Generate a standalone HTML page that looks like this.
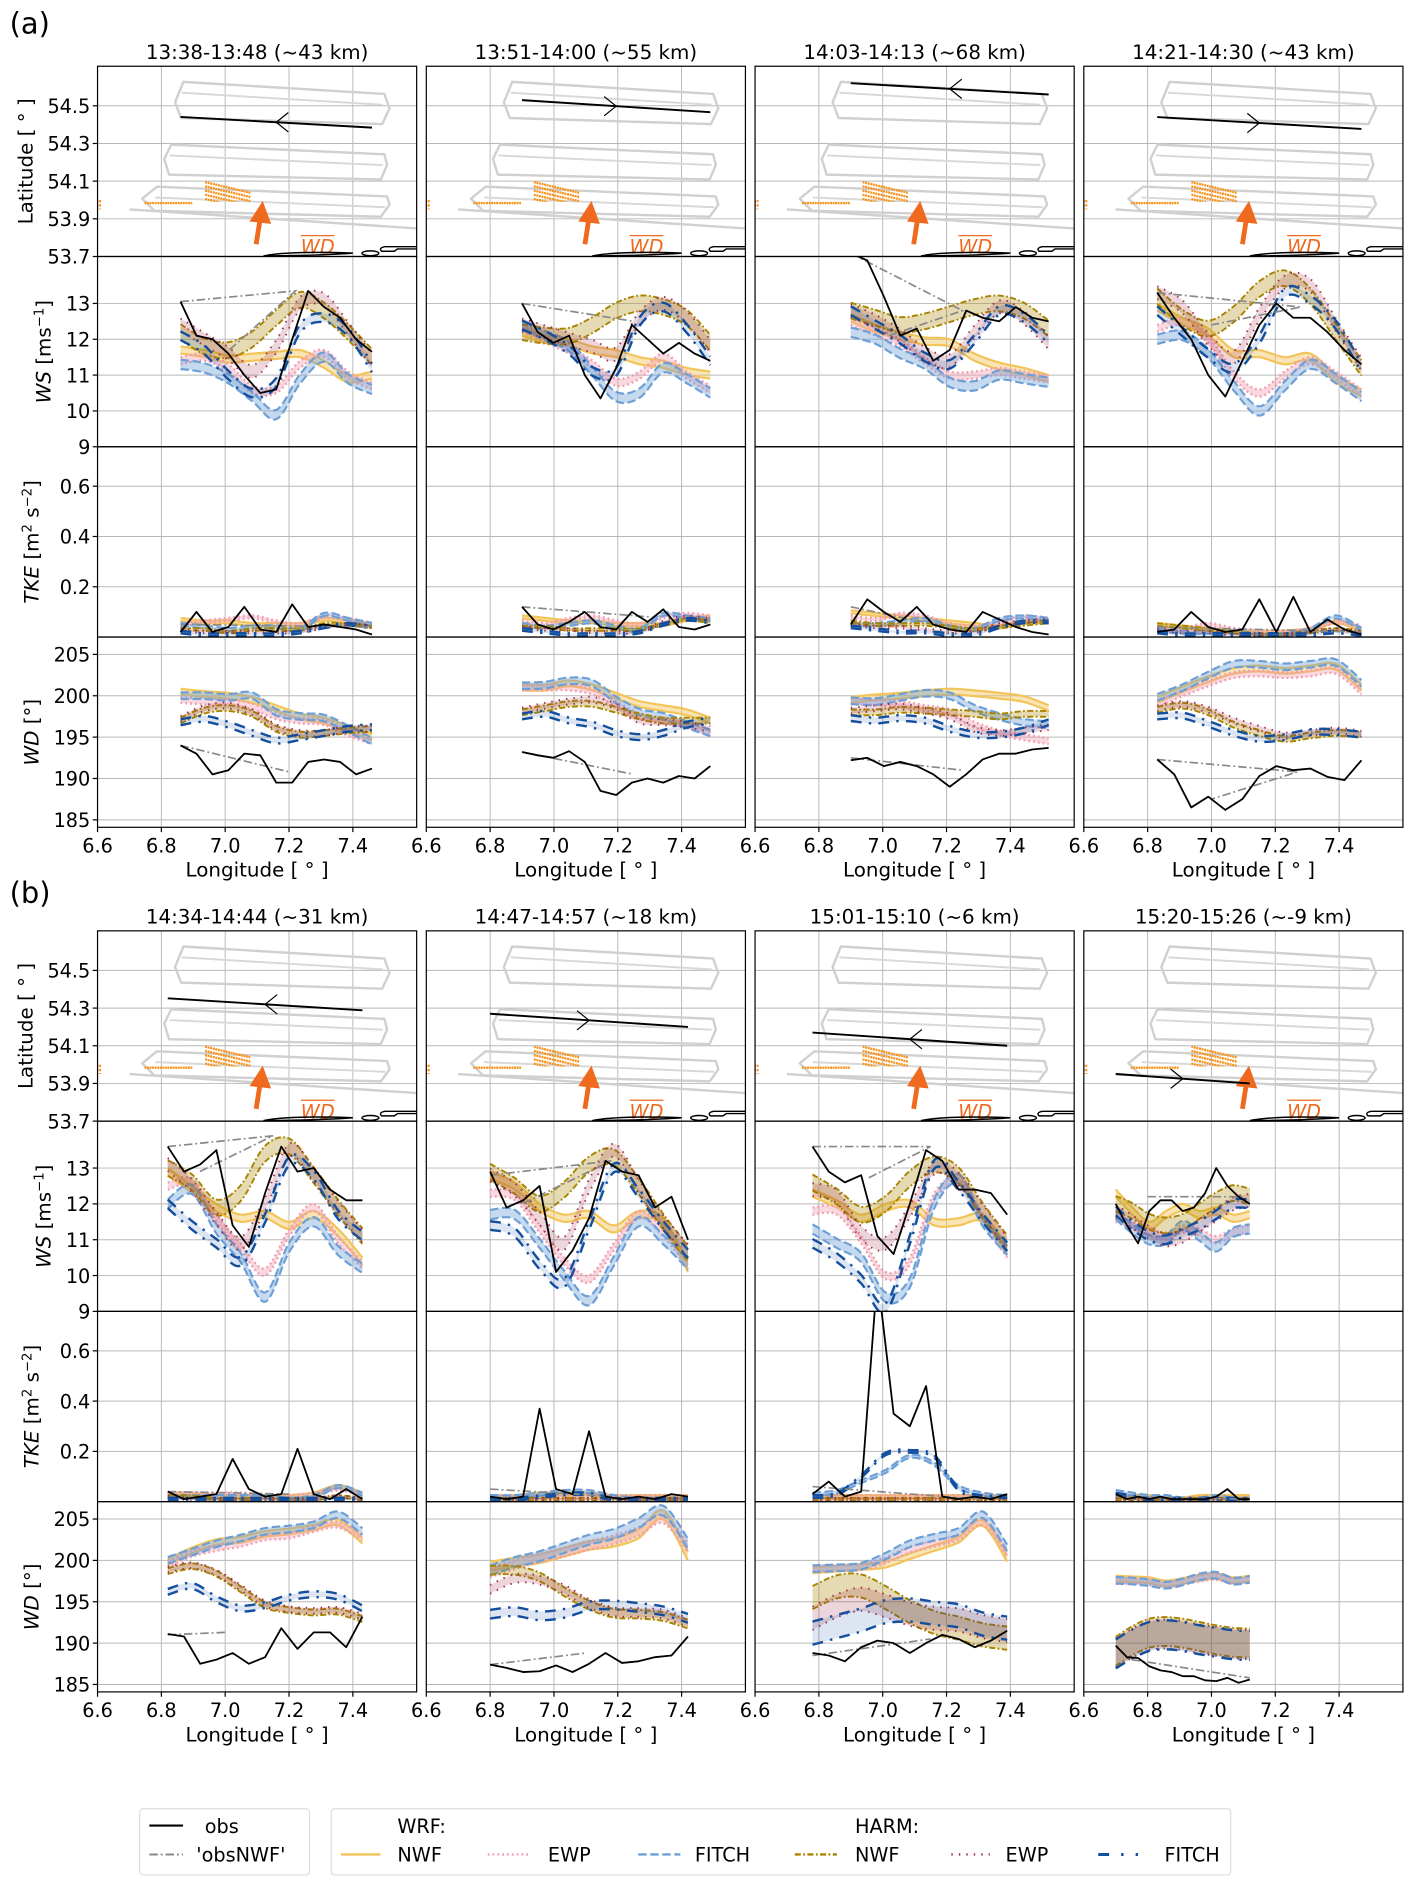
<!DOCTYPE html>
<html><head><meta charset="utf-8">
<style>
html,body{margin:0;padding:0;background:#fff;}
svg{display:block;font-family:"DejaVu Sans","Liberation Sans",sans-serif;}
</style></head>
<body>
<svg id="fig" xmlns="http://www.w3.org/2000/svg" width="1421" height="1890" viewBox="0 0 1180 1569.5" preserveAspectRatio="none">
<rect x="0" y="0" width="1180" height="1569.5" fill="#fff"/>
<defs id="defs"></defs>
<g id="root"></g>
</svg>
<script>
// ---------- data ----------
const titles = ["13:38-13:48 (~43 km)","13:51-14:00 (~55 km)","14:03-14:13 (~68 km)","14:21-14:30 (~43 km)",
"14:34-14:44 (~31 km)","14:47-14:57 (~18 km)","15:01-15:10 (~6 km)","15:20-15:26 (~-9 km)"];
const lonStart = [6.86,6.9,6.9,6.83,6.82,6.8,6.78,6.7];
const lonEnd   = [7.46,7.49,7.52,7.47,7.43,7.42,7.39,7.12];
const legLat0 = [54.441,54.53,54.62,54.44,54.352,54.27,54.17,53.95];
const legLat1 = [54.384,54.466,54.56,54.377,54.288,54.2,54.1,53.9];
const legDir  = [-1,1,-1,1,-1,1,-1,1];
const latTicks = [53.7,53.9,54.1,54.3,54.5];
const wsTicks = [9,10,11,12,13];
const tkeTicks = [0.2,0.4,0.6];
const wdTicks = [185,190,195,200,205];
const lonTicks = [6.6,6.8,7.0,7.2,7.4];

// WS
const wsWrfNwf = [[11.7,11.6,11.45,11.5,11.55,11.6,11.3,10.9,11.0],[12.2,12.0,11.9,11.7,11.6,11.4,11.3,11.1,11.0],[12.6,12.3,12.1,11.95,11.9,11.5,11.25,11.1,10.9],[12.9,12.5,12.2,11.6,11.6,11.4,11.5,10.9,10.5],[12.9,12.4,11.9,11.6,11.7,11.4,11.7,11.2,10.4],[12.8,12.5,11.9,11.6,11.7,11.3,11.7,11.5,10.2],[12.3,12.0,11.6,11.9,12.0,11.5,11.5,11.6,10.7],[12.3,11.8,11.4,11.7,11.9,11.7,11.8,11.6,11.7]];
const wsWrfEwp = [[11.4,11.5,11.2,10.6,10.6,11.3,11.6,11.0,10.7],[12.3,12.0,11.7,11.3,10.8,11.0,11.5,11.0,10.6],[12.5,12.2,11.9,11.4,11.0,11.0,11.1,11.0,10.9],[12.3,12.5,12.0,11.0,10.5,11.0,11.4,11.0,10.5],[12.5,12.6,11.6,10.8,10.1,11.2,11.9,11.0,10.3],[12.3,12.2,11.3,10.4,9.9,10.8,11.7,11.2,10.3],[11.8,11.8,11.0,10.0,10.4,12.2,12.6,11.6,10.6],[11.6,11.4,11.2,11.1,11.3,11.2,11.0,11.2,11.3]];
const wsWrfFitch = [[11.3,11.2,10.9,10.4,9.9,10.9,11.5,10.9,10.6],[12.4,12.1,11.8,11.1,10.4,10.5,11.2,10.9,10.5],[12.2,12.0,11.6,11.3,10.8,10.7,11.0,10.9,10.8],[12.0,12.1,11.6,10.7,10.0,10.7,11.3,10.9,10.4],[12.0,12.4,11.3,10.5,9.4,10.8,11.5,10.7,10.2],[11.7,11.7,10.9,10.0,9.3,10.4,11.5,11.0,10.3],[11.3,10.9,10.5,9.4,9.8,12.0,12.7,11.5,10.7],[11.7,11.3,11.0,11.0,11.4,11.1,10.8,11.2,11.3]];
const wsHarmNwf = [[12.2,11.8,11.7,12.0,12.6,13.1,12.8,12.2,11.5],[12.2,12.1,12.1,12.4,12.8,13.0,12.9,12.6,11.9],[12.8,12.6,12.4,12.5,12.7,12.9,13.0,12.8,12.3],[13.2,12.6,12.3,12.7,13.4,13.7,13.2,12.2,11.2],[13.0,12.6,11.9,12.3,13.4,13.6,12.8,11.9,11.1],[12.9,12.5,12.0,12.4,13.1,13.3,12.5,11.5,10.6],[12.6,12.2,11.7,12.0,12.7,13.1,12.8,11.8,10.9],[12.0,11.8,11.5,11.4,11.5,11.8,12.1,12.3,12.2]];
const wsHarmEwp = [[12.4,12.0,11.6,11.1,11.8,13.0,13.1,12.3,11.4],[12.4,12.2,12.0,11.8,11.6,12.6,13.0,12.6,11.8],[12.8,12.5,12.1,11.6,11.4,12.2,12.9,12.6,11.9],[13.3,12.9,12.0,11.5,12.7,13.6,13.5,12.4,11.3],[13.1,12.5,11.6,10.9,12.0,13.5,12.8,11.9,11.1],[12.8,12.4,11.6,10.9,12.5,13.5,12.5,11.5,10.7],[12.4,12.2,11.2,10.9,11.8,13.0,12.7,11.8,10.9],[11.8,11.5,11.2,11.0,11.1,11.4,11.7,12.0,12.1]];
const wsHarmFitch = [[12.1,11.7,11.0,10.5,10.8,12.3,12.6,12.2,11.2],[12.4,12.1,11.7,11.1,11.1,12.5,12.9,12.3,11.4],[12.8,12.4,12.0,11.5,11.3,12.0,12.8,12.6,12.0],[12.8,12.2,11.6,11.2,12.0,13.3,13.1,12.4,11.2],[12.0,11.4,10.9,10.4,11.6,13.2,12.8,11.7,11.1],[11.4,11.2,10.3,9.8,11.4,13.0,12.3,11.4,10.6],[10.9,10.5,9.9,9.1,11.0,13.1,12.5,11.6,10.8],[11.8,11.4,11.1,11.0,11.2,11.4,11.7,12.0,12.0]];
const wsObs = [[13.05,12.1,12.0,11.6,11.0,10.5,10.6,12.0,13.35,12.9,12.6,12.0,11.65],[13.0,12.2,11.9,12.1,11.0,10.35,11.2,12.4,12.0,11.6,11.9,11.6,11.4],[14.4,14.2,13.2,12.1,12.3,11.4,11.7,12.8,12.6,12.5,12.9,12.6,12.5],[13.3,12.6,12.0,11.0,10.4,11.4,12.4,13.0,12.6,12.6,12.2,11.7,11.3],[13.6,12.9,13.1,13.5,11.4,10.8,12.3,13.6,12.9,13.0,12.4,12.1,12.1],[12.9,11.9,12.1,12.5,10.1,10.7,11.6,13.2,12.9,12.8,11.9,12.2,11.0],[13.6,12.9,12.6,12.8,11.1,10.6,12.0,13.5,13.2,12.4,12.4,12.3,11.7],[12.0,11.4,10.9,11.8,12.1,12.1,11.8,11.9,12.3,13.0,12.5,12.2,12.0]];
const wsObsNwfLon = [[6.86,7.22,7.0],[6.9,7.25],[6.9,7.25,7.02],[6.83,7.28,7.0],[6.82,7.15,6.92],[6.8,7.18,6.9],[6.78,7.15,6.95],[6.8,7.1]];
const wsObsNwfVal = [[13.05,13.35,11.6],[13.0,12.5],[14.4,12.8,12.1],[13.3,12.9,12.4],[13.6,13.9,12.9],[12.8,13.2,12.0],[13.6,13.6,12.7],[12.2,12.2]];

// TKE
const tkeWrfNwf = [[.07,.06,.06,.05,.05,.05,.07,.06,.05],[.08,.07,.06,.06,.05,.05,.05,.07,.08],[.1,.09,.08,.07,.06,.05,.04,.06,.06],[.05,.04,.03,.02,.02,.02,.03,.06,.03],[.03,.03,.02,.02,.02,.02,.03,.06,.03],[.02,.02,.03,.03,.03,.02,.02,.02,.02],[.02,.02,.02,.02,.02,.02,.02,.02,.02],[.02,.02,.02,.01,.01,.02,.02,.02,.02]];
const tkeWrfEwp = [[.05,.06,.07,.08,.06,.05,.08,.07,.05],[.06,.05,.07,.08,.06,.05,.08,.09,.08],[.08,.07,.09,.08,.05,.04,.06,.08,.07],[.03,.03,.05,.03,.02,.02,.03,.06,.04],[.03,.03,.03,.03,.02,.02,.03,.05,.03],[.02,.02,.02,.02,.02,.02,.02,.02,.02],[.02,.02,.02,.02,.02,.02,.02,.02,.02],[.02,.02,.01,.01,.01,.01,.01,.01,.01]];
const tkeWrfFitch = [[.05,.04,.03,.04,.04,.03,.09,.07,.05],[.05,.04,.05,.06,.04,.03,.09,.08,.07],[.05,.05,.06,.07,.04,.03,.07,.08,.07],[.03,.02,.02,.02,.01,.01,.03,.08,.03],[.02,.02,.02,.02,.02,.01,.02,.06,.03],[.02,.02,.03,.04,.04,.02,.01,.01,.01],[.03,.04,.08,.12,.18,.15,.06,.03,.02],[.04,.03,.02,.02,.01,.01,.02,.01,.01]];
const tkeHarmNwf = [[.03,.03,.02,.03,.03,.03,.05,.05,.04],[.04,.04,.03,.03,.03,.03,.05,.07,.06],[.06,.05,.05,.05,.04,.03,.04,.05,.06],[.05,.04,.03,.02,.01,.01,.02,.03,.02],[.02,.02,.01,.01,.01,.01,.01,.02,.01],[.01,.01,.01,.01,.01,.01,.01,.01,.01],[.01,.01,.01,.01,.01,.01,.01,.01,.01],[.01,.01,.01,.01,.01,.01,.01,.01,.01]];
const tkeHarmEwp = [[.03,.02,.02,.02,.02,.02,.04,.05,.04],[.04,.03,.03,.02,.02,.02,.06,.08,.07],[.05,.04,.04,.03,.02,.02,.05,.06,.07],[.03,.02,.02,.01,.01,.01,.02,.03,.02],[.02,.01,.01,.01,.01,.01,.01,.02,.01],[.01,.01,.01,.01,.01,.01,.01,.01,.01],[.01,.01,.01,.01,.01,.01,.01,.01,.01],[.01,.01,.01,.01,.01,.01,.01,.01,.01]];
const tkeHarmFitch = [[.02,.01,.01,.01,.01,.02,.04,.05,.04],[.03,.02,.01,.01,.01,.02,.05,.07,.06],[.04,.03,.02,.02,.01,.01,.04,.06,.06],[.02,.01,.01,.01,.01,.01,.01,.02,.01],[.01,.01,.01,.01,.01,.01,.01,.01,.01],[.01,.01,.02,.03,.03,.01,.01,.01,.01],[.02,.03,.1,.19,.2,.18,.05,.02,.02],[.03,.02,.01,.01,.01,.01,.01,.01,.01]];
const tkeObs = [[.02,.1,.02,.04,.12,.03,.02,.13,.04,.05,.04,.03,.01],[.12,.05,.03,.06,.1,.04,.03,.1,.06,.11,.04,.03,.05],[.05,.15,.1,.06,.12,.05,.03,.02,.1,.07,.04,.02,.01],[.02,.03,.1,.04,.02,.03,.15,.02,.16,.02,.07,.03,.01],[.04,.01,.02,.03,.17,.05,.02,.03,.21,.03,.01,.05,.01],[.02,.01,.02,.37,.05,.03,.28,.02,.01,.02,.01,.03,.02],[.03,.08,.02,.04,.9,.35,.3,.46,.02,.01,.02,.01,.03],[.03,.01,.02,.01,.02,.01,.01,.01,.01,.02,.05,.01,.01]];
const tkeObsNwfLon = [[6.86,7.46],[6.9,7.3],[6.9,7.2],[6.83,7.47],[6.82,7.2],[6.8,7.2],[6.78,7.3],[6.7,7.1]];
const tkeObsNwfVal = [[.05,.04],[.12,.08],[.12,.04],[.04,.02],[.04,.03],[.05,.02],[.06,.01],[.02,.01]];

// WD
const wdWrfNwf = [[200.5,200.2,200.0,199.5,198.5,197.5,197.0,196.0,195.0],[201,201,201.5,201,200,199,198.5,198,197],[199.5,199.8,200,200.3,200.5,200.3,200,199.6,198.5],[199.5,200.8,202,203,203.3,203,203.3,203.5,201],[199.8,201.2,202.2,202.5,203.2,203.5,204.0,204.6,202.4],[199.3,199.8,200.2,201.0,201.8,202.2,203.2,205.5,200.5],[198.8,199.0,199.2,199.5,200.5,201.5,202.5,204.5,200.2],[197.8,197.7,197.6,197.2,197.5,197.9,198.1,197.6,197.8]];
const wdWrfEwp = [[199.5,199.3,199.2,198.7,197.5,197,196.8,195.5,194.5],[201,201,201,200.5,199,197.5,197,196.5,195.5],[199.3,199.2,199.0,198.5,198,196.5,195.5,195,194.5],[199,200.3,201.5,202.5,202.7,202.5,202.7,203,200.5],[199.5,200.8,201.5,202.0,202.8,203.0,203.8,204.3,202.8],[198.5,199.5,200.3,201.0,201.8,202.5,203.5,205.0,201.5],[199,199.1,199.2,200,201.3,202,202.8,204.6,200.8],[197.5,197.5,197.4,197.1,197.4,197.8,198.0,197.5,197.7]];
const wdWrfFitch = [[200,200,199.8,200,198,197.5,197.3,196,194.5],[201.2,201.3,201.8,201.5,199.5,198,197.5,196.5,195.5],[199.4,199.3,199.8,200.3,200,198.5,197.5,196.8,196.5],[199.8,201,202.5,203.8,203.8,203.5,203.8,204,201.5],[200,201,202,202.7,203.5,203.8,204.3,205.5,203.5],[198.8,199.8,200.5,201.5,202.5,203.2,204.5,206,202],[199,199.1,199.3,200.5,202,202.8,203.5,205.5,201.5],[197.6,197.5,197.3,197.0,197.4,198.0,198.2,197.5,197.7]];
const wdHarmNwf = [[197,198.2,198.5,197.8,196,195.3,195.5,195.8,196],[198,198.5,199,199,198.3,197.5,197,197,197],[198,198,198.3,198.2,198,197.8,197.5,197.8,197.8],[198.3,198.8,198,196.5,195.5,194.8,195.2,195.5,195.3],[198.7,199.3,198.4,196.5,194.6,194.0,193.7,193.8,192.9],[198.8,198.8,198.0,196.2,194.6,193.6,193.5,193.2,192.3],[195.5,196.8,196.9,195.5,193.8,192.5,191.8,191.0,190.6],[189.0,190.3,191.2,191.4,191.2,190.8,190.4,190.1,190.0]];
const wdHarmEwp = [[197.2,198.5,198.8,198,196.2,195.5,195.5,196,196],[198.2,198.8,199.3,199.5,198.7,197,196.8,196.5,196],[198.2,198.5,198.7,198.2,197.5,196,195.5,195.8,196.2],[198.5,199,198.3,197,196,195.2,195.5,195.8,195.4],[198.9,199.4,198.5,196.7,194.8,194.1,193.9,194.0,193.2],[196.5,197.8,197.6,196.5,194.8,193.8,193.7,193.5,192.5],[193.0,194.5,195.3,194.5,193.5,193.0,192.8,192.0,191.5],[188.8,190.0,190.9,191.1,190.9,190.5,190.2,189.9,189.8]];
const wdHarmFitch = [[196.8,197.2,196.5,195.5,194.6,195.0,195.5,196,196.2],[197.5,197.8,197,196.5,195.5,195,195.5,196.5,197],[197.3,197.0,197.3,197,196,195.3,195.3,195.8,196.8],[197.5,197.6,196.6,195.5,194.8,195.0,195.6,195.6,195.3],[196.2,196.9,195.3,194.2,194.6,195.5,195.9,195.6,194.2],[193.5,193.8,193.3,193.6,194.5,194.6,194.3,193.9,193.0],[191.2,192.0,192.8,193.8,194.0,193.6,193.3,192.3,191.8],[188.7,189.9,190.8,191.0,190.8,190.4,190.1,189.8,189.7]];
const wdObs = [[194,193,190.5,191,193,192.8,189.5,189.5,192,192.3,192,190.5,191.2],[193.2,192.8,192.5,193.3,192,188.5,188,189.5,190,189.5,190.3,190,191.5],[192.2,192.5,191.5,192,191.5,190.5,189,190.5,192.3,193,193,193.5,193.7],[192.3,190.5,186.5,187.8,186.2,187.5,190.3,191.5,191,191.2,190.2,189.8,192.2],[191.1,190.8,187.5,188.0,188.8,187.5,188.3,191.8,189.3,191.3,191.3,189.5,193.2],[187.4,187.0,186.5,186.6,187.3,186.5,187.5,188.8,187.6,187.8,188.3,188.5,190.8],[188.8,188.5,187.8,189.5,190.3,190.0,188.8,190.0,191.0,190.5,189.5,190.3,191.5],[189.7,188.3,188.2,187.2,186.7,186.5,186.0,186.0,185.5,185.4,185.8,185.2,185.6]];
const wdObsNwfLon = [[6.86,7.2],[6.9,7.25],[6.9,7.25],[6.83,7.27,7.0],[6.82,7.0],[6.8,7.1],[6.78,7.15],[6.75,7.12]];
const wdObsNwfVal = [[194,190.8],[193.2,190.5],[192.5,191],[192.3,190.8,187.5],[191.0,191.3],[187.4,188.8],[188.5,190.5],[188.0,185.8]];
const wdSpread = [1,1,1,1,1,1.5,4,5];

// ---------- layout ----------
const NS = "http://www.w3.org/2000/svg";
const root = document.getElementById('root');
const defs = document.getElementById('defs');
const colLeft = [81,354,627,900];
const colW = 265, rowH = 158;
const groupTop = [55,773];
const LON0 = 6.6, LON1 = 7.6;
const FS_T = 16.5, FS_TICK = 16, FS_LAB = 16.5;
const rowDomains = [[53.7,54.71],[9,14.31],[0,0.757],[184.1,207.1]];
const models = [
 {name:'wrf-nwf', col:'#f2c45a', fill:'rgba(242,196,90,0.45)', dash:'', w:1.8, hw:[0.1,0.006,0.35]},
 {name:'wrf-ewp', col:'#f19db0', fill:'rgba(241,157,176,0.4)', dash:'1.5,2.5', w:2, hw:[0.1,0.006,0.35]},
 {name:'wrf-fitch', col:'#6d9fd6', fill:'rgba(109,159,214,0.4)', dash:'7,3', w:1.8, hw:[0.13,0.006,0.4]},
 {name:'harm-nwf', col:'#a88400', fill:'rgba(168,132,0,0.3)', dash:'5,2,1.5,2', w:1.6, hw:[0.22,0.005,0.35]},
 {name:'harm-ewp', col:'#a0304a', fill:'rgba(160,48,74,0.2)', dash:'1.2,5', w:1.6, hw:[0.18,0.005,0.35]},
 {name:'harm-fitch', col:'#134f9e', fill:'rgba(19,79,158,0.15)', dash:'9,6,2,6', w:2, hw:[0.12,0.005,0.35]}
];
const wsModels = [wsWrfNwf,wsWrfEwp,wsWrfFitch,wsHarmNwf,wsHarmEwp,wsHarmFitch];
const tkeModels = [tkeWrfNwf,tkeWrfEwp,tkeWrfFitch,tkeHarmNwf,tkeHarmEwp,tkeHarmFitch];
const wdModels = [wdWrfNwf,wdWrfEwp,wdWrfFitch,wdHarmNwf,wdHarmEwp,wdHarmFitch];

function el(tag, attrs, parent){
  const e = document.createElementNS(NS, tag);
  for (const k in attrs) e.setAttribute(k, attrs[k]);
  (parent||root).appendChild(e);
  return e;
}
function txt(s, attrs, parent){ const t = el('text', attrs, parent); t.textContent = s; return t; }

function xScale(p){ const l = colLeft[p%4]; return lon => l + (lon-LON0)/(LON1-LON0)*colW; }
function yScale(p, r){ const top = groupTop[Math.floor(p/4)] + r*rowH; const d = rowDomains[r];
  return v => top + rowH*(1-(v-d[0])/(d[1]-d[0])); }
function lonsFor(p, n){ const a=[]; for(let k=0;k<n;k++) a.push(lonStart[p]+(lonEnd[p]-lonStart[p])*k/(n-1)); return a; }
function smooth(pts){
  let d = 'M'+pts[0][0].toFixed(2)+','+pts[0][1].toFixed(2);
  for (let i=0;i<pts.length-1;i++){
    const p0=pts[Math.max(0,i-1)], p1=pts[i], p2=pts[i+1], p3=pts[Math.min(pts.length-1,i+2)];
    const c1=[p1[0]+(p2[0]-p0[0])/6, p1[1]+(p2[1]-p0[1])/6];
    const c2=[p2[0]-(p3[0]-p1[0])/6, p2[1]-(p3[1]-p1[1])/6];
    d += 'C'+c1[0].toFixed(2)+','+c1[1].toFixed(2)+' '+c2[0].toFixed(2)+','+c2[1].toFixed(2)+' '+p2[0].toFixed(2)+','+p2[1].toFixed(2);
  }
  return d;
}
function smoothRev(pts){ return smooth(pts.slice().reverse()).replace(/^M/,'L'); }

// ---------- draw panels ----------
for (let p=0;p<8;p++){
  const X = xScale(p);
  const pg = el('g', {});
  
  
  for (let r=0;r<4;r++){
    const Y = yScale(p,r);
    const top = groupTop[Math.floor(p/4)] + r*rowH, left = colLeft[p%4];
    const cid = 'clip'+p+'_'+r;
    const cp = el('clipPath', {id:cid}, defs);
    el('rect', {x:left, y:top, width:colW, height:rowH}, cp);
    const ag = el('g', {}, pg);
    
    
    const cg = el('g', {'clip-path':'url(#'+cid+')'}, ag);
    for (let gx=6.8; gx<7.55; gx+=0.2){
      const g = el('line', {x1:X(gx), x2:X(gx), y1:top, y2:top+rowH, stroke:'#b8b8b8', 'stroke-width':0.8}, cg);
      
      
    }
    const ticks = [latTicks,wsTicks,tkeTicks,wdTicks][r];
    ticks.forEach(t=>{
      const g = el('line', {x1:left, x2:left+colW, y1:Y(t), y2:Y(t), stroke:'#b8b8b8', 'stroke-width':0.8}, cg);
      
      
    });
    if (r===0) drawMap(p, X, Y, cg);
    else {
      const mods = [wsModels,tkeModels,wdModels][r-1];
      const obs = [wsObs,tkeObs,wdObs][r-1][p];
      const nLon = [wsObsNwfLon,tkeObsNwfLon,wdObsNwfLon][r-1][p];
      const nVal = [wsObsNwfVal,tkeObsNwfVal,wdObsNwfVal][r-1][p];
      const lons = lonsFor(p, 9);
      for (let m=0;m<6;m++){
        const vals = mods[m][p];
        let hw = models[m].hw[r-1]; if (r===3) hw *= wdSpread[p]; if (r===3 && m<3 && wdSpread[p]>2) hw = models[m].hw[2];
        const lower = vals.map((v,k)=>[X(lons[k]), Y(r===2?Math.max(0,v-hw):v-hw)]);
        const upper = vals.map((v,k)=>[X(lons[k]), Y(v+hw)]);
        const band = el('path', {d: smooth(upper)+smoothRev(lower)+'Z', fill:models[m].fill, stroke:'none'}, cg);
        
        
        [upper,lower].forEach(pts=>{
          const ln = el('path', {d:smooth(pts), fill:'none', stroke:models[m].col, 'stroke-width':models[m].w, 'stroke-dasharray':models[m].dash}, cg);
          
          
        });
      }
      const on = el('polyline', {points: nLon.map((l,k)=>X(l).toFixed(2)+','+Y(nVal[k]).toFixed(2)).join(' '), fill:'none', stroke:'#888', 'stroke-width':1.4, 'stroke-dasharray':'7,2.5,1.5,2.5'}, cg);
      
      
      const ol = lonsFor(p, obs.length);
      const o = el('polyline', {points: obs.map((v,k)=>X(ol[k]).toFixed(2)+','+Y(v).toFixed(2)).join(' '), fill:'none', stroke:'#000', 'stroke-width':1.5, 'stroke-linejoin':'round'}, cg);
      
      
    }
    const fr = el('rect', {x:left, y:top, width:colW, height:rowH, fill:'none', stroke:'#000', 'stroke-width':1}, ag);
    
    
    if (p%4===0){
      ticks.forEach(t=>{
        el('line', {x1:left-4, x2:left, y1:Y(t), y2:Y(t), stroke:'#000', 'stroke-width':1}, ag);
        const lab = txt((r===0||r===2)? t.toFixed(1) : String(t), {x:left-6, y:Y(t)+6, 'text-anchor':'end', 'font-size':FS_TICK, fill:'#000'}, ag);
        
        
      });
    }
    if (r===3){
      lonTicks.forEach(t=>{
        el('line', {x1:X(t), x2:X(t), y1:top+rowH, y2:top+rowH+4, stroke:'#000', 'stroke-width':1}, ag);
        const lab = txt(t.toFixed(1), {x:X(t), y:top+rowH+21, 'text-anchor':'middle', 'font-size':FS_TICK}, ag);
        
        
      });
      const xl = txt('Longitude [ ° ]', {x:left+colW/2, y:top+rowH+41, 'text-anchor':'middle', 'font-size':FS_LAB}, ag);
      
      
    }
  }
  const tt = txt(titles[p], {x:colLeft[p%4]+colW/2, y:groupTop[Math.floor(p/4)]-6, 'text-anchor':'middle', 'font-size':FS_T}, pg);
  
  
}

function drawMap(p, X, Y, g){
  const loops = [
    [[6.869,54.627],[7.499,54.563],[7.515,54.486],[7.492,54.403],[6.862,54.435],[6.843,54.518]],
    [[6.831,54.294],[7.499,54.243],[7.507,54.186],[7.488,54.109],[6.824,54.135],[6.809,54.218]],
    [[6.786,54.071],[7.507,54.019],[7.515,53.975],[7.488,53.911],[6.778,53.943],[6.740,54.007]]
  ];
  loops.forEach(lp=>{
    const t = el('polygon', {points: lp.map(q=>X(q[0]).toFixed(1)+','+Y(q[1]).toFixed(1)).join(' '), fill:'none', stroke:'#d0d0d0', 'stroke-width':2, 'stroke-linejoin':'round'}, g);
    
    
    el('polyline', {points:[lp[0],lp[1]].map(q=>X(q[0]-0.005).toFixed(1)+','+(Y(q[1])+9).toFixed(1)).join(' '), fill:'none', stroke:'#d8d8d8','stroke-width':1.6}, g);
  });
  el('polyline', {points:[[6.70,53.95],[7.606,53.848]].map(q=>X(q[0]).toFixed(1)+','+Y(q[1]).toFixed(1)).join(' '), fill:'none', stroke:'#d0d0d0','stroke-width':2}, g);
  const farms = [[6.75,6.9,53.975,53.99],[6.94,7.08,53.99,54.10],[6.6,6.615,53.95,54.0]];
  farms.forEach((f,fi)=>{
    let d='';
    for (let lo=f[0]; lo<=f[1]; lo+=0.008){
      const top = fi===1 ? f[3] - (lo-f[0])*0.4 : f[3];
      d += 'M'+X(lo).toFixed(1)+','+Y(top).toFixed(1)+'V'+Y(f[2]).toFixed(1);
    }
    const w = el('path', {d, stroke:'#f7941d', 'stroke-width':1.6, 'stroke-dasharray':'2,1.5', fill:'none'}, g);
    
    
  });
  const a0=[X(7.097),Y(53.765)], a1=[X(7.11),Y(53.905)];
  const ar = el('g', {}, g);
  
  
  el('line', {x1:a0[0], y1:a0[1], x2:a1[0], y2:a1[1], stroke:'#ef6a1e', 'stroke-width':4}, ar);
  el('polygon', {points:(a1[0]-9)+','+(a1[1]+3)+' '+(a1[0]+2)+','+(a1[1]-14)+' '+(a1[0]+9)+','+(a1[1]+5), fill:'#ef6a1e'}, ar);
  const wx = X(7.29), wy = Y(53.715);
  const wl = txt('WD', {x:wx, y:wy, 'text-anchor':'middle', 'font-size':16, 'font-style':'italic', fill:'#ef6a1e'}, g);
  
  
  el('line', {x1:wx-14, x2:wx+14, y1:wy-15, y2:wy-15, stroke:'#ef6a1e', 'stroke-width':1}, g);
  const cs = el('g', {fill:'none', stroke:'#000', 'stroke-width':1.2}, g);
  
  
  el('path', {d:'M'+X(7.12)+','+Y(53.703)+' Q'+X(7.2)+','+Y(53.73)+' '+X(7.4)+','+Y(53.718)+' Q'+X(7.3)+','+Y(53.705)+' '+X(7.12)+','+Y(53.703)+'Z'}, cs);
  el('ellipse', {cx:X(7.455), cy:Y(53.717), rx:7, ry:2}, cs);
  el('path', {d:'M'+X(7.6)+','+Y(53.74)+' L'+X(7.54)+','+Y(53.74)+' L'+X(7.53)+','+Y(53.728)+' L'+X(7.49)+','+Y(53.728)+' Q'+X(7.48)+','+Y(53.745)+' '+X(7.5)+','+Y(53.752)+' L'+X(7.6)+','+Y(53.752)}, cs);
  const x0=X(lonStart[p]), x1=X(lonEnd[p]), y0=Y(legLat0[p]), y1=Y(legLat1[p]);
  const lg = el('g', {}, g);
  
  
  el('line', {x1:x0, y1:y0, x2:x1, y2:y1, stroke:'#000', 'stroke-width':1.6}, lg);
  const mx=(x0+x1)/2, my=(y0+y1)/2, dx=legDir[p];
  el('polyline', {points:(mx+dx*(-10))+','+(my-8)+' '+mx+','+my+' '+(mx+dx*(-10))+','+(my+8), fill:'none', stroke:'#000', 'stroke-width':1}, lg);
}

function yTitle(s, x, y, name){
  const t = el('text', {x:0, y:0, transform:'translate('+x+','+y+') rotate(-90)', 'text-anchor':'middle', 'font-size':FS_LAB});
  t.innerHTML = s;
  
  
}
[0,1].forEach(gi=>{
  const t0 = groupTop[gi];
  yTitle('Latitude [ ° ]', 27, t0+rowH/2, 'y-axis-title-latitude');
  yTitle('<tspan font-style="italic">WS</tspan> [ms<tspan dy="-6" font-size="11">−1</tspan><tspan dy="6">]</tspan>', 42, t0+rowH*1.5, 'y-axis-title-ws');
  yTitle('<tspan font-style="italic">TKE</tspan> [m<tspan dy="-6" font-size="11">2</tspan><tspan dy="6"> s</tspan><tspan dy="-6" font-size="11">−2</tspan><tspan dy="6">]</tspan>', 32, t0+rowH*2.5, 'y-axis-title-tke');
  yTitle('<tspan font-style="italic">WD</tspan> [°]', 32, t0+rowH*3.5, 'y-axis-title-wd');
});
const la = txt('(a)', {x:8, y:28, 'font-size':24});


const lb = txt('(b)', {x:8, y:750, 'font-size':24});



const leg = el('g', {'font-size':16});


el('rect', {x:116, y:1502, width:141, height:55, rx:3, fill:'#fff', stroke:'#ddd'}, leg);
el('rect', {x:275, y:1502, width:747, height:55, rx:3, fill:'#fff', stroke:'#ddd'}, leg);
function legEntry(x1,x2,y,col,dash,w,label,tx,name){
  const e = el('g', {}, leg);
  
  
  el('line', {x1, x2, y1:y, y2:y, stroke:col, 'stroke-width':w, 'stroke-dasharray':dash}, e);
  txt(label, {x:tx, y:y+6}, e);
}
legEntry(124,152,1516,'#000','',1.8,'obs',170,'legend-entry-obs');
legEntry(124,152,1540,'#888','7,2.5,1.5,2.5',1.6,"'obsNWF'",163,'legend-entry-obsnwf');
txt('WRF:', {x:330, y:1522}, leg);
txt('HARM:', {x:710, y:1522}, leg);
legEntry(283,316,1540,models[0].col,'',2,'NWF',330,'legend-entry-wrf-nwf');
legEntry(405,440,1540,models[1].col,models[1].dash,2,'EWP',455,'legend-entry-wrf-ewp');
legEntry(530,565,1540,models[2].col,models[2].dash,2,'FITCH',577,'legend-entry-wrf-fitch');
legEntry(660,695,1540,models[3].col,models[3].dash,2,'NWF',710,'legend-entry-harm-nwf');
legEntry(790,822,1540,models[4].col,models[4].dash,2,'EWP',835,'legend-entry-harm-ewp');
legEntry(912,945,1540,models[5].col,'9,10,2,10',2.5,'FITCH',967,'legend-entry-harm-fitch');
</script>
</body></html>
